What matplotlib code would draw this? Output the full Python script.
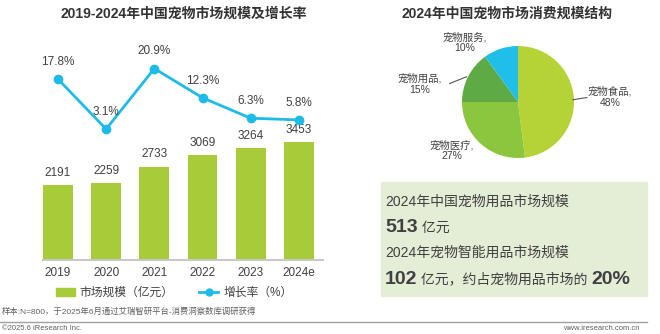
import matplotlib
matplotlib.use("Agg")
import matplotlib.pyplot as plt
from matplotlib.patches import Patch, Rectangle
from matplotlib.lines import Line2D

plt.rcParams["font.family"] = ["Liberation Sans", "Noto Sans CJK SC", "DejaVu Sans"]

years = ["2019", "2020", "2021", "2022", "2023", "2024e"]
market_size = [2191, 2259, 2733, 3069, 3264, 3453]
growth_rate = [17.8, 3.1, 20.9, 12.3, 6.3, 5.8]

pie_labels = ["宠物食品", "宠物医疗", "宠物用品", "宠物服务"]
pie_shares = [48, 27, 15, 10]

BAR_GREEN = "#a8cb38"
LINE_BLUE = "#1fbbe8"
TEXT = "#404040"
PIE_COLORS = ["#b5d336", "#8cc63f", "#5eab45", "#1fbfea"]

W, H = 660, 334
fig = plt.figure(figsize=(6.6, 3.34), dpi=100)


def box(x0, y0, x1, y1):
    # pixel box (top-left origin) -> figure fraction rect
    return [x0 / W, 1 - y1 / H, (x1 - x0) / W, (y1 - y0) / H]


# ---- left: bars + growth line ----
ax = fig.add_axes(box(43, 40, 323, 260))
x = list(range(len(years)))
ax.bar(x, market_size, width=0.62, color=BAR_GREEN, zorder=2)
for xi, v in zip(x, market_size):
    ax.text(xi, v + 180, f"{v}", ha="center", va="bottom", fontsize=8.5, color=TEXT)
ax.set_xlim(-0.31, 5.5)
ax.set_ylim(0, 6440)
ax.set_xticks(x)
ax.set_xticklabels(years, fontsize=8.5, color=TEXT)
ax.tick_params(axis="x", length=0, pad=5)
ax.set_yticks([])
for s in ["top", "left", "right"]:
    ax.spines[s].set_visible(False)
ax.spines["bottom"].set_color("#c8c8c8")
ax.spines["bottom"].set_linewidth(1.5)

ax2 = ax.twinx()
ax2.plot(x, growth_rate, color=LINE_BLUE, lw=2, marker="o", ms=6, zorder=3)
for xi, v in zip(x, growth_rate):
    ax2.annotate(f"{v}%", (xi, v), xytext=(0, 8), textcoords="offset points",
                 ha="center", va="bottom", fontsize=8.5, color=TEXT)
ax2.set_ylim(-35.4, 29.3)
ax2.axis("off")

fig.text(184 / W, 1 - 14 / H, "2019-2024年中国宠物市场规模及增长率", ha="center",
         va="center", fontsize=10, fontweight="bold", color="#333333")

handles = [Patch(color=BAR_GREEN),
           Line2D([], [], color=LINE_BLUE, lw=2, marker="o", ms=5)]
fig.legend(handles, ["市场规模（亿元）", "增长率（%）"], loc="center",
           bbox_to_anchor=(174 / W, 1 - 293 / H), ncol=2, frameon=False,
           fontsize=8.5, handlelength=1.6, handleheight=0.6, columnspacing=2.2,
           handletextpad=0.4, labelcolor=TEXT)

fig.text(2 / W, 1 - 312 / H, "样本:N=800，于2025年6月通过艾瑞智研平台-消费洞察数库调研获得",
         ha="left", va="center", fontsize=6, color="#606060")
fig.add_artist(Line2D([0, 647 / W], [1 - 322 / H] * 2, color="#a0a0a0", lw=1))
fig.text(2 / W, 1 - 329 / H, "©2025.6 iResearch Inc.", ha="left", va="center",
         fontsize=5.5, color="#606060")
fig.text(640 / W, 1 - 329 / H, "www.iresearch.com.cn", ha="right", va="center",
         fontsize=5.5, color="#606060")

# ---- right: pie ----
fig.text(507 / W, 1 - 14 / H, "2024年中国宠物市场消费规模结构", ha="center",
         va="center", fontsize=10, fontweight="bold", color="#333333")

pax = fig.add_axes(box(462, 46, 574, 158))
pax.pie(pie_shares, colors=PIE_COLORS, startangle=90, counterclock=False,
        radius=1)
pax.set_xlim(-1, 1)
pax.set_ylim(-1, 1)
pax.set_aspect("auto")
label_pos = [(1.64, 0.09), (-1.18, -0.87), (-1.75, 0.32), (-0.95, 1.06)]
for name, share, (lx, ly) in zip(pie_labels, pie_shares, label_pos):
    pax.text(lx, ly, f"{name},\n{share}%", ha="center", va="center",
             fontsize=7.5, color=TEXT, linespacing=1.1, clip_on=False)
pax.plot([0.98, 1.23], [0.04, 0.08], color="#555555", lw=0.8, clip_on=False)
pax.plot([-1.22, -0.92], [0.33, 0.45], color="#555555", lw=0.8, clip_on=False)

# ---- right: highlight box ----
fig.add_artist(Rectangle((381 / W, 1 - 296 / H), (647 - 381) / W, (296 - 182) / H,
                         transform=fig.transFigure, color="#e4edd6", zorder=0))


def text_run(x_px, y_px, parts):
    renderer = fig.canvas.get_renderer()
    xf = x_px / W
    for s, size, weight in parts:
        t = fig.text(xf, 1 - y_px / H, s, ha="left", va="center",
                     fontsize=size, fontweight=weight, color=TEXT)
        bb = t.get_window_extent(renderer)
        xf = bb.x1 / fig.bbox.width


text_run(385, 202, [("2024年中国宠物用品市场规模", 10, "normal")])
text_run(385, 228, [("513", 14, "bold"), (" 亿元", 10, "normal")])
text_run(385, 253, [("2024年宠物智能用品市场规模", 10, "normal")])
text_run(385, 279, [("102", 14, "bold"), (" 亿元，约占宠物用品市场的 ", 10, "normal"),
                    ("20%", 14, "bold")])

fig.savefig("out.png", dpi=100)
